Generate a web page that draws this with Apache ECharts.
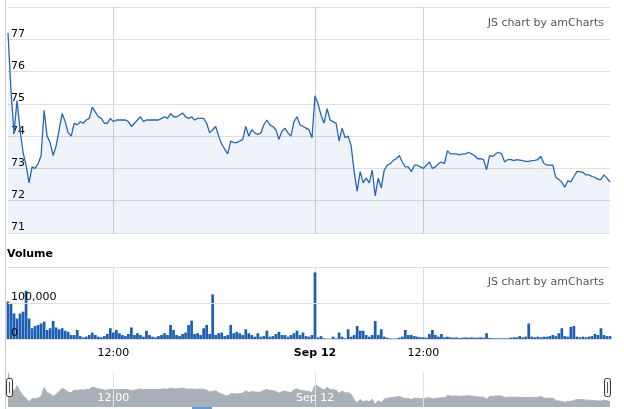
<!DOCTYPE html>
<html><head><meta charset="utf-8">
<script src="https://cdn.jsdelivr.net/npm/echarts@6/dist/echarts.min.js"></script>
<style>html,body{margin:0;padding:0;background:#fff}#c{width:624px;height:409px}</style>
</head><body><div id="c"></div>
<script>
const price = [
 77.2, 75.4, 74.1, 75.1, 74.2, 73.5, 73.1, 72.55, 73.05, 73.0,
 73.15, 73.4, 74.8, 74.0, 73.8, 73.4, 73.7, 74.2, 74.7, 74.45,
 74.1, 74.0, 74.4, 74.35, 74.45, 74.4, 74.5, 74.55, 74.9, 74.75,
 74.6, 74.55, 74.4, 74.4, 74.55, 74.45, 74.5, 74.5, 74.5, 74.5,
 74.45, 74.3, 74.4, 74.5, 74.6, 74.45, 74.5, 74.5, 74.5, 74.5,
 74.5, 74.55, 74.6, 74.55, 74.7, 74.6, 74.6, 74.65, 74.72, 74.6,
 74.55, 74.6, 74.5, 74.55, 74.55, 74.55, 74.4, 74.1, 74.2, 74.3,
 74.0, 73.75, 73.6, 73.45, 73.85, 73.8, 73.8, 73.85, 73.9, 74.3,
 74.0, 74.2, 74.1, 74.05, 74.1, 74.35, 74.5, 74.35, 74.3, 74.2,
 73.9, 74.15, 74.25, 74.1, 74.0, 74.45, 74.6, 74.35, 74.3, 74.25,
 74.2, 73.95, 75.25, 75.0, 74.65, 74.4, 74.85, 74.5, 74.45, 74.4,
 73.85, 74.25, 73.95, 74.0, 73.7, 72.9, 72.3, 72.9, 72.55, 72.7,
 72.55, 72.95, 72.15, 72.7, 72.4, 72.95, 73.1, 73.15, 73.25, 73.3,
 73.4, 73.2, 73.05, 73.05, 72.9, 73.1, 73.1, 73.05, 73.0, 73.1,
 73.2, 73.0, 73.05, 73.15, 73.2, 73.15, 73.55, 73.45, 73.45, 73.45,
 73.42, 73.45, 73.45, 73.5, 73.45, 73.4, 73.3, 73.3, 73.27, 72.96,
 73.4, 73.37, 73.45, 73.5, 73.45, 73.2, 73.27, 73.28, 73.24, 73.27,
 73.26, 73.24, 73.22, 73.22, 73.24, 73.25, 73.27, 73.38, 73.16, 73.1,
 73.1, 73.1, 72.72, 72.66, 72.57, 72.42, 72.62, 72.58, 72.75, 72.9,
 72.9, 72.88, 72.8, 72.8, 72.75, 72.72, 72.67, 72.65, 72.8, 72.7,
 72.58
];
const volume = [
 104000, 99000, 71000, 57000, 71000, 76000, 134000, 57000, 30000, 36000,
 39000, 43000, 48000, 25000, 30000, 50000, 32000, 27000, 30000, 23000,
 20000, 11000, 11000, 25000, 8000, 4600, 6500, 11000, 18000, 11000,
 6500, 4600, 8000, 14000, 30000, 18000, 25000, 16000, 11000, 8000,
 14000, 32000, 11000, 16000, 11000, 6500, 23000, 11000, 6500, 4600,
 8000, 11000, 16000, 11000, 39000, 25000, 11000, 8000, 14000, 18000,
 39000, 51000, 14000, 16000, 11000, 30000, 39000, 14000, 124000, 11000,
 16000, 18000, 8000, 11000, 39000, 16000, 20000, 16000, 11000, 27000,
 16000, 11000, 6500, 16000, 6500, 8000, 23000, 6500, 8000, 14000,
 20000, 11000, 11000, 6500, 11000, 16000, 23000, 11000, 18000, 8000,
 6500, 11000, 185000, 4600, 8000, 1900, 1000, 1000, 6500, 1900,
 18000, 6500, 1900, 27000, 6500, 11000, 36000, 23000, 23000, 11000,
 6500, 11000, 50000, 11000, 27000, 6500, 3700, 1900, 1000, 1900,
 3700, 6500, 25000, 11000, 11000, 8000, 6500, 4600, 4600, 3700,
 14000, 25000, 11000, 6500, 14000, 4600, 6500, 4600, 3700, 4600,
 2800, 3700, 4600, 3700, 4600, 3700, 3700, 4600, 3700, 16000,
 2800, 1900, 1900, 1900, 1900, 1900, 1900, 3700, 4600, 4600,
 8000, 4600, 6500, 43000, 6500, 4600, 6500, 4600, 6500, 6500,
 8000, 11000, 8000, 16000, 30000, 8000, 6500, 34000, 36000, 6500,
 4600, 6500, 4600, 6500, 8000, 14000, 11000, 30000, 11000, 8000,
 8000
];
const tickIndex = [35, 102, 138];
const tickLabels = ['12:00', 'Sep 12', '12:00'];
const navTickIndex = [35, 102];
const priceTicks = { min: 71, max: 78, step: 1 };
const volumeTicks = { min: 0, max: 200000, step: 100000 };

const categories = price.map((_, i) => String(i));
const FONT = 'DejaVu Sans';
const isTick = (i) => tickIndex.indexOf(i) >= 0;
const isNavTick = (i) => navTickIndex.indexOf(i) >= 0;
const labelOf = (i) => tickLabels[tickIndex.indexOf(i)];

const chart = echarts.init(document.getElementById('c'), null, { renderer: 'canvas' });
const blue = '#2368b8';
const option = {
  animation: false,
  textStyle: { fontFamily: FONT },
  title: [
    { text: 'JS chart by amCharts', right: 20, top: 18, padding: 0,
      textStyle: { fontSize: 11, fontWeight: 'normal', color: '#555', fontFamily: FONT } },
    { text: 'JS chart by amCharts', right: 20, top: 277, padding: 0,
      textStyle: { fontSize: 11, fontWeight: 'normal', color: '#555', fontFamily: FONT } },
    { text: 'Volume', left: 7, top: 249, padding: 0,
      textStyle: { fontSize: 11, fontWeight: 'bold', color: '#000', fontFamily: FONT } }
  ],
  grid: [
    { left: 8, right: 14, top: 7, height: 226 },
    { left: 8, right: 14, top: 267, height: 72 },
    { left: 8, right: 14, top: 372, height: 35 }
  ],
  xAxis: [
    { type: 'category', gridIndex: 0, data: categories, boundaryGap: false,
      axisLine: { show: false }, axisTick: { show: false }, axisLabel: { show: false },
      splitLine: { show: true, interval: (i) => isTick(i), lineStyle: { color: '#cdd1d7', width: 1 } } },
    { type: 'category', gridIndex: 1, data: categories, boundaryGap: false,
      axisLine: { show: false }, axisTick: { show: false },
      axisLabel: { show: true, interval: (i) => isTick(i), margin: 9, fontSize: 11, color: '#000', fontFamily: FONT,
        formatter: (v, i) => { const idx = Number(v); const t = labelOf(idx); return idx === 102 ? '{b|' + t + '}' : t; },
        rich: { b: { fontWeight: 'bold', fontSize: 11, color: '#000', fontFamily: FONT } } },
      splitLine: { show: true, interval: (i) => isTick(i), lineStyle: { color: '#d8dbe0', width: 1 } } },
    { type: 'category', gridIndex: 2, data: categories, boundaryGap: false, z: 5,
      axisLine: { show: false }, axisTick: { show: false },
      axisLabel: { show: true, inside: true, interval: (i) => isNavTick(i), margin: 3, fontSize: 11, color: '#fff', fontFamily: FONT,
        formatter: (v) => labelOf(Number(v)) },
      splitLine: { show: true, interval: (i) => isTick(i), lineStyle: { color: '#dfe2e6', width: 1 } } }
  ],
  yAxis: [
    { type: 'value', gridIndex: 0, min: priceTicks.min, max: priceTicks.max, interval: priceTicks.step,
      axisLine: { show: false }, axisTick: { show: false },
      axisLabel: { inside: true, margin: 3, fontSize: 11, color: '#000', fontFamily: FONT, verticalAlign: 'bottom', showMaxLabel: false },
      splitLine: { lineStyle: { color: '#dedede', width: 1 } } },
    { type: 'value', gridIndex: 1, min: volumeTicks.min, max: volumeTicks.max, interval: volumeTicks.step, z: 5,
      axisLine: { show: false }, axisTick: { show: false },
      axisLabel: { inside: true, margin: 3, fontSize: 11, color: '#000', fontFamily: FONT, verticalAlign: 'bottom',
        showMaxLabel: false, showMinLabel: true,
        formatter: (v) => v.toLocaleString('en-US') },
      splitLine: { lineStyle: { color: '#dedede', width: 1 } } },
    { type: 'value', gridIndex: 2, min: 71.7, max: 77.3, show: false, splitLine: { show: false } }
  ],
  series: [
    { type: 'line', xAxisIndex: 0, yAxisIndex: 0, data: price, showSymbol: false,
      lineStyle: { color: blue, width: 1.3 }, itemStyle: { color: blue },
      areaStyle: { color: 'rgba(35,104,184,0.10)', origin: 'start' } },
    { type: 'bar', xAxisIndex: 1, yAxisIndex: 1, data: volume, barCategoryGap: '10%',
      itemStyle: { color: '#1c5fb2' } },
    { type: 'line', xAxisIndex: 2, yAxisIndex: 2, data: price, showSymbol: false,
      lineStyle: { color: '#aab0b8', width: 1 }, itemStyle: { color: '#aab0b8' },
      areaStyle: { color: '#aab0b8', opacity: 1, origin: 'start' } }
  ],
  graphic: [
    { type: 'line', shape: { x1: 5.5, y1: 0, x2: 5.5, y2: 409 }, style: { stroke: '#cfcfcf', lineWidth: 1 }, z: 10 },
    { type: 'rect', shape: { x: 6.5, y: 378.5, width: 6, height: 18, r: 2 }, style: { fill: '#f4f4f4', stroke: '#333', lineWidth: 1 }, z: 10 },
    { type: 'line', shape: { x1: 9.5, y1: 382, x2: 9.5, y2: 393 }, style: { stroke: '#555', lineWidth: 1 }, z: 11 },
    { type: 'rect', shape: { x: 604.5, y: 378.5, width: 6, height: 18, r: 2 }, style: { fill: '#f4f4f4', stroke: '#333', lineWidth: 1 }, z: 10 },
    { type: 'line', shape: { x1: 607.5, y1: 382, x2: 607.5, y2: 393 }, style: { stroke: '#555', lineWidth: 1 }, z: 11 },
    { type: 'rect', shape: { x: 192, y: 407, width: 20, height: 2 }, style: { fill: '#5b9be0' }, z: 10 }
  ]
};
chart.setOption(option);
</script>
</body></html>
